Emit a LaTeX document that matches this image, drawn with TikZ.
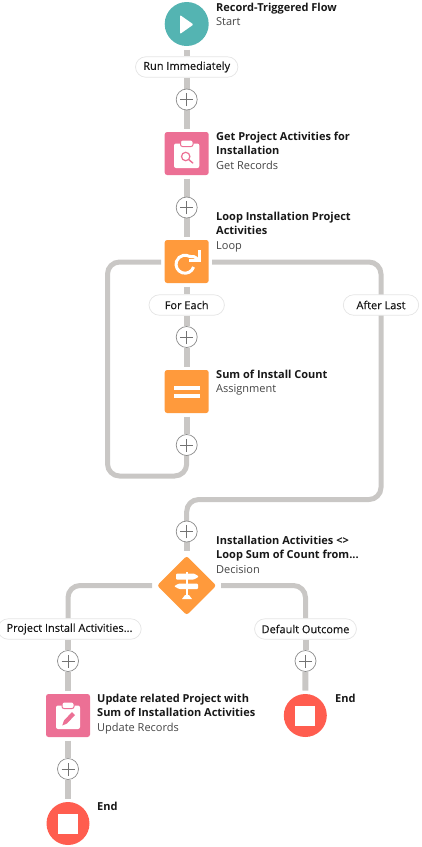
\documentclass[tikz,border=0pt]{standalone}
\usepackage{fontspec}
\setmainfont{Open Sans}
\newfontfamily\pillfont[FakeBold=0.25]{Open Sans}
\usetikzlibrary{backgrounds,shapes.geometric}
\definecolor{conn}{HTML}{C9C7C5}
\definecolor{teal}{HTML}{54B4B2}
\definecolor{pinkbox}{HTML}{EC7095}
\definecolor{orangebox}{HTML}{FF9A3C}
\definecolor{redend}{HTML}{FF5D4F}
\definecolor{txt}{HTML}{181818}
\definecolor{subtxt}{HTML}{444444}
\tikzset{
  connector/.style={draw=conn,line width=6pt,line join=round},
  loopline/.style={draw=conn,line width=5pt,line join=round,rounded corners=12pt},
  pill/.style={draw=black!10,fill=white,line width=0.7pt,rounded corners=10.5pt,minimum height=20.5pt,inner sep=0pt,font=\pillfont\fontsize{11pt}{12pt}\selectfont\color{txt}},
  plusbtn/.style={circle,draw=black!45,fill=white,line width=0.7pt,minimum size=21pt,inner sep=0pt},
  squarebox/.style={rectangle,rounded corners=2.5pt,minimum width=44pt,minimum height=43pt,inner sep=0pt,outer sep=3.5pt},
  endbox/.style={circle,fill=redend,minimum size=43pt,inner sep=0pt,outer sep=3.5pt},
  lab/.style={anchor=north west,inner sep=0pt,align=left,font=\fontsize{11pt}{14.5pt}\selectfont,text=txt},
  plusmark/.style={draw=black!55,line width=1pt},
}
\newcommand{\ttl}[1]{\textbf{#1}}
\newcommand{\subl}[1]{{\color{subtxt}#1}}
\newcommand{\plusat}[1]{\draw[plusmark] ([xshift=-6.5pt]#1.center) -- ([xshift=6.5pt]#1.center) ([yshift=-6.5pt]#1.center) -- ([yshift=6.5pt]#1.center);}
\begin{document}
\begin{tikzpicture}[x=1pt,y=-1pt]
\useasboundingbox (0,0) rectangle (421,847);
% nodes
\node[circle,fill=teal,minimum size=44pt,inner sep=0pt,outer sep=3.5pt] (start) at (186.7,24) {};
\node[pill,minimum width=102.5pt] (run) at (186.7,67) {Run Immediately};
\node[plusbtn] (p1) at (186.7,99.5) {};
\node[squarebox,fill=pinkbox] (get) at (186.7,153.5) {};
\node[plusbtn] (p2) at (186.7,207.5) {};
\node[squarebox,fill=orangebox] (loop) at (186.7,261.5) {};
\node[pill,minimum width=75.5pt] (each) at (186.7,305) {For Each};
\node[pill,minimum width=75.5pt] (last) at (381,305) {After Last};
\node[plusbtn] (p3) at (186.7,337) {};
\node[squarebox,fill=orangebox] (assign) at (186.7,391.5) {};
\node[plusbtn] (p4) at (186.7,445) {};
\node[plusbtn] (p5) at (186.7,531.5) {};
\node[diamond,fill=orangebox,minimum size=62pt,inner sep=0pt,outer sep=3.5pt,rounded corners=2.5pt] (dec) at (186.7,585.5) {};
\node[pill,minimum width=143.5pt] (pia) at (69.5,629) {Project Install Activities...};
\node[pill,minimum width=102pt] (def) at (305.5,629) {Default Outcome};
\node[plusbtn] (p6) at (68,661) {};
\node[plusbtn] (p7) at (305.5,661) {};
\node[squarebox,fill=pinkbox] (upd) at (68,715.5) {};
\node[endbox] (end1) at (305.3,715.5) {};
\node[plusbtn] (p8) at (68,769) {};
\node[endbox] (end2) at (68,823.5) {};
% named routing points
\coordinate (lt) at (107.5,262);
\coordinate (lb) at (107.5,476);
\coordinate (rt) at (381,262);
\coordinate (rb) at (381,499.5);
\coordinate (dl) at (68,585.5);
\coordinate (dr) at (305.5,585.5);
% connectors
\begin{scope}[on background layer]
\draw[connector] (start) -- (run);
\draw[connector] (run) -- (p1);
\draw[connector] (p1) -- (get);
\draw[connector] (get) -- (p2);
\draw[connector] (p2) -- (loop);
\draw[connector] (loop) -- (each);
\draw[connector] (each) -- (p3);
\draw[connector] (p3) -- (assign);
\draw[connector] (assign) -- (p4);
\draw[loopline] (p4.center) |- (lb) -- (lt) -- (loop.west |- lt);
\draw[loopline] (loop.east |- rt) -- (rt) -- (rb) -| (p5.center);
\draw[connector] (p5) -- (dec);
\draw[loopline] (dec.west) -- (dl) -- (pia.north -| dl);
\draw[loopline] (dec.east) -- (dr) -- (def.north);
\draw[connector] (pia.south -| p6) -- (p6);
\draw[connector] (def) -- (p7);
\draw[connector] (p6) -- (upd);
\draw[connector] (p7) -- (end1);
\draw[connector] (upd) -- (p8);
\draw[connector] (p8) -- (end2);
\end{scope}
% plus marks
\foreach \n in {p1,p2,p3,p4,p5,p6,p7,p8}{\plusat{\n}}
% icons
\fill[white,rounded corners=1pt] (180,15) -- (193.5,24.5) -- (180,34) -- cycle;
% get records clipboard
\fill[white,rounded corners=2pt] (174,143.5) rectangle (199.3,168);
\fill[white,draw=pinkbox,line width=1pt,rounded corners=2pt] (180.5,140) rectangle (193,146.5);
\draw[pinkbox,line width=1.2pt] (185.7,156.5) circle (4.2);
\draw[pinkbox,line width=1.4pt,line cap=round] (188.8,159.6) -- (192.8,163);
% loop icon
\draw[white,line width=3pt] (193.6,267) arc (18:300:9) .. controls (192.5,255.5) and (195.5,257) .. (198,259.5);
\draw[white,line width=3pt,line join=miter] (199,250) -- (199,260) -- (189,260);
% assignment
\fill[white] (173.5,386) rectangle (200,390);
\fill[white] (173.5,393.5) rectangle (200,397.5);
% decision
\fill[white,rounded corners=1pt] (176,573.5) -- (194,573.5) -- (199,576.5) -- (194,579.5) -- (176,579.5) -- cycle;
\fill[white,rounded corners=1pt] (179,583.5) -- (198,583.5) -- (198,589) -- (179,589) -- (174,586.2) -- cycle;
\fill[white] (185.7,571.5) rectangle (187.9,596);
\fill[white] (182,599) -- (185,595) -- (189,595) -- (192,599) -- cycle;
% update clipboard
\fill[white,rounded corners=2pt] (56,705.5) rectangle (80,729);
\fill[white,draw=pinkbox,line width=1pt,rounded corners=2pt] (62,702) rectangle (74,708.5);
\fill[pinkbox] (64,720.5) -- (72,712) -- (75,715) -- (67,723.5) -- (62.3,725.5) -- cycle;
% end squares
\fill[white] (295.3,705.5) rectangle (315.3,725.5);
\fill[white] (58,813.5) rectangle (78,833.5);
% labels
\node[lab] (l1) at (216,2.5) {\ttl{Record-Triggered Flow}\\\subl{Start}};
\node[lab] (l2) at (216,131.5) {\ttl{Get Project Activities for}\\\ttl{Installation}\\\subl{Get Records}};
\node[lab] (l3) at (216,211.5) {\ttl{Loop Installation Project}\\\ttl{Activities}\\\subl{Loop}};
\node[lab] (l4) at (216,369.5) {\ttl{Sum of Install Count}\\\subl{Assignment}};
\node[lab] (l5) at (216,535.5) {\ttl{Installation Activities <>}\\\ttl{Loop Sum of Count from...}\\\subl{Decision}};
\node[lab] (l6) at (97,693.5) {\ttl{Update related Project with}\\\ttl{Sum of Installation Activities}\\\subl{Update Records}};
\node[lab] (l7) at (335,693.5) {\ttl{End}};
\node[lab] (l8) at (97,801.5) {\ttl{End}};
\end{tikzpicture}
\end{document}
